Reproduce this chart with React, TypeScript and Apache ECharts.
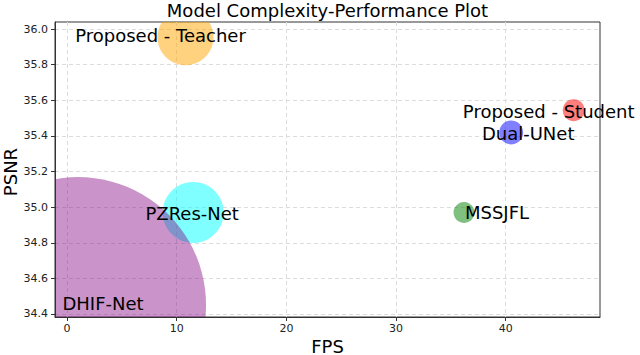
import React, { useEffect, useRef } from 'react';
import * as echarts from 'echarts';

// ---- data ----
const models = ['Proposed - Teacher', 'Proposed - Student', 'Dual-UNet', 'MSSJFL', 'PZRes-Net', 'DHIF-Net'];
const fps = [10.8, 46.2, 40.5, 36.2, 11.5, 1.0];
const psnr = [35.955, 35.545, 35.42, 34.97, 34.97, 34.45];
const bubbleSize = [56, 22, 24, 21, 61, 256];
const xTicks = [0, 10, 20, 30, 40];
const yTicks = [34.4, 34.6, 34.8, 35.0, 35.2, 35.4, 35.6, 35.8, 36.0];
const titleText = 'Model Complexity-Performance Plot';
const xName = 'FPS';
const yName = 'PSNR';

// ---- style ----
const colors = ['#FFA500', '#FF0000', '#0000FF', '#008000', '#00FFFF', '#800080'];
const alphas = [0.5, 0.5, 0.5, 0.5, 0.5, 0.42];
const labelDx = [-25, -25, 17, 33, -1, 25];
const labelDy = [-2, 1, 1, 0, 1, -2];
const FONT = '"DejaVu Sans", sans-serif';

export default function App() {
  const ref = useRef<HTMLDivElement>(null);
  useEffect(() => {
    document.body.style.margin = '0';
    if (!ref.current) return;
    const chart = echarts.init(ref.current, undefined, { renderer: 'svg' });
    const rows = models.map((m, i) => [fps[i], psnr[i], bubbleSize[i], i]);
    const option: any = {
      animation: false,
      textStyle: { fontFamily: FONT },
      grid: {
        left: 55, top: 22, width: 545, height: 295,
        show: true, borderColor: '#333', borderWidth: 1, backgroundColor: 'transparent',
        containLabel: false, outerBoundsMode: 'none',
      },
      xAxis: {
        type: 'value', min: -1.1, max: 48.6, splitNumber: 5,
        axisLine: { show: true, onZero: false, lineStyle: { color: '#333', width: 1 } },
        axisTick: { show: true, length: 4, lineStyle: { color: '#333' }, customValues: xTicks },
        axisLabel: { customValues: xTicks, fontSize: 11, color: '#222', margin: 6, fontFamily: FONT },
        splitLine: { show: true, lineStyle: { color: '#dcdcdc', type: [4, 3], width: 1 } },
      },
      yAxis: {
        type: 'value', min: 34.383, max: 36.04, splitNumber: 8,
        axisLine: { show: true, onZero: false, lineStyle: { color: '#333', width: 1 } },
        axisTick: { show: true, length: 4, lineStyle: { color: '#333' }, customValues: yTicks },
        axisLabel: {
          customValues: yTicks, fontSize: 11, color: '#222', margin: 7, fontFamily: FONT,
          formatter: (v: number) => v.toFixed(1),
        },
        splitLine: { show: true, lineStyle: { color: '#dcdcdc', type: [4, 3], width: 1 } },
      },
      series: [
        {
          type: 'custom',
          clip: true,
          z: 2,
          encode: { x: 0, y: 1 },
          data: rows,
          renderItem: (params: any, api: any) => {
            const p = api.coord([api.value(0), api.value(1)]);
            const i = api.value(3);
            return {
              type: 'circle',
              shape: { cx: p[0], cy: p[1], r: api.value(2) / 2 },
              style: { fill: colors[i], opacity: alphas[i] },
            };
          },
        },
        {
          type: 'custom',
          clip: false,
          z: 5,
          encode: { x: 0, y: 1 },
          data: rows,
          renderItem: (params: any, api: any) => {
            const p = api.coord([api.value(0), api.value(1)]);
            const i = api.value(3);
            return {
              type: 'text',
              x: p[0] + labelDx[i],
              y: p[1] + labelDy[i],
              style: {
                text: models[i], fill: '#000', fontSize: 18, fontFamily: FONT,
                align: 'center', verticalAlign: 'middle',
              },
            };
          },
        },
      ],
      graphic: [
        {
          type: 'text', x: 327.5, y: 10,
          style: { text: titleText, fill: '#000', fontSize: 18, fontFamily: FONT, align: 'center', verticalAlign: 'middle' },
        },
        {
          type: 'text', x: 327.5, y: 346,
          style: { text: xName, fill: '#000', fontSize: 18, fontFamily: FONT, align: 'center', verticalAlign: 'middle' },
        },
        {
          type: 'text', x: 10, y: 172, rotation: Math.PI / 2,
          style: { text: yName, fill: '#000', fontSize: 18, fontFamily: FONT, align: 'center', verticalAlign: 'middle' },
        },
      ],
    };
    chart.setOption(option);
    return () => chart.dispose();
  }, []);
  return <div ref={ref} style={{ width: 640, height: 355 }} />;
}
